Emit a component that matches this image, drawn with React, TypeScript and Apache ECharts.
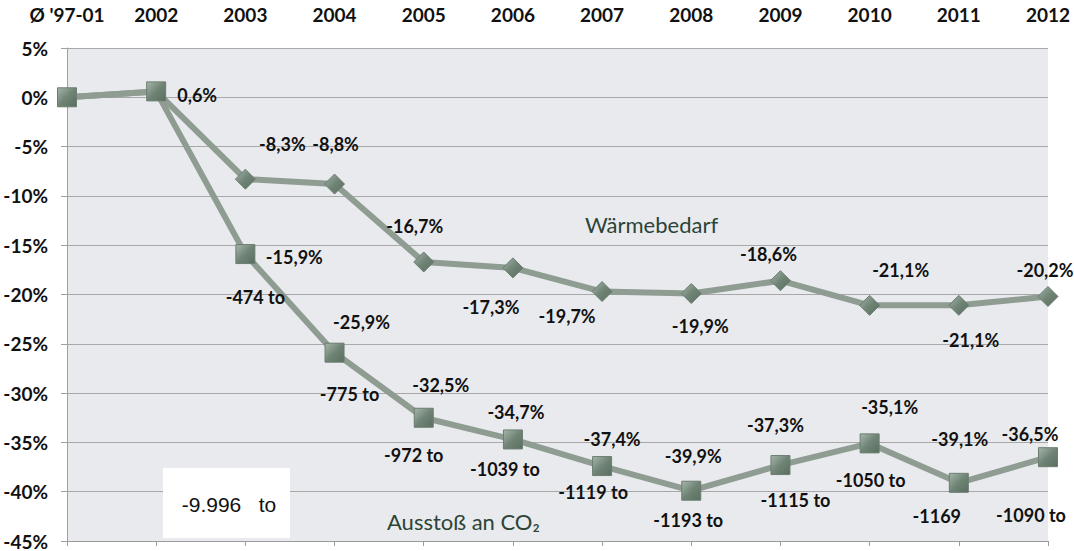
import React, { useEffect, useRef } from "react";
import * as echarts from "echarts";

const categories = ["Ø '97-01", "2002", "2003", "2004", "2005", "2006", "2007", "2008", "2009", "2010", "2011", "2012"];
const waermeValues = [0, 0.6, -8.3, -8.8, -16.7, -17.3, -19.7, -19.9, -18.6, -21.1, -21.1, -20.2];
const co2Values = [0, 0.6, -15.9, -25.9, -32.5, -34.7, -37.4, -39.9, -37.3, -35.1, -39.1, -36.5];
const co2Tons = [null, null, -474, -775, -972, -1039, -1119, -1193, -1115, -1050, -1169, -1090];
const tonUnits = ["", "", " to", " to", " to", " to", " to", " to", " to", " to", "", " to"];
const yTicks = { min: -45, max: 5, interval: 5 };
const totalLabel = "-9.996   to";
const waermeName = "Wärmebedarf";
const co2Name = "Ausstoß an CO₂";

// label placements (pixel offsets from the point)
const waermeOffsets: (number[] | null)[] = [null, null, [37, -35], [1, -40], [-9, -36], [-22, 39], [-35, 24], [9, 32], [-12, -27], [31, -35], [12, 35], [-3, -26]];
const co2Offsets: (number[] | null)[] = [null, [41, 4], [49, 3], [27, -31], [17, -33], [3, -27], [10, -27], [2, -35], [-5, -40], [20, -36], [1, -44], [-18, -23]];
const tonOffsets: (number[] | null)[] = [null, null, [10, 43], [15, 41], [-10, 37], [-8, 30], [-9, 26], [-3, 29], [15, 35], [1, 37], [-22, 33], [-17, 58]];

const fmtPct = (v: number) => `${v.toFixed(1).replace(".", ",")}%`;

const LINE = "#8e9c92";
const markerFill = new echarts.graphic.LinearGradient(0, 0, 1, 1, [
  { offset: 0, color: "#a7b5ab" },
  { offset: 0.5, color: "#6f8475" },
  { offset: 1, color: "#5a6e60" },
]);
const labelFont = { fontFamily: "Lato", fontWeight: "bold" as const, fontSize: 18, color: "#111" };

export default function App() {
  const ref = useRef<HTMLDivElement>(null);
  useEffect(() => {
    if (!ref.current) return;
    const chart = echarts.init(ref.current, null, { renderer: "svg" });

    const waermeData = waermeValues.map((v, i) => ({
      value: v,
      symbol: i < 2 ? "none" : "diamond",
      label: waermeOffsets[i]
        ? { show: true, position: "inside", offset: waermeOffsets[i], formatter: fmtPct(v), ...labelFont }
        : { show: false },
    }));
    const co2Data = co2Values.map((v, i) => ({
      value: v,
      label: co2Offsets[i]
        ? { show: true, position: "inside", offset: co2Offsets[i], formatter: fmtPct(v), ...labelFont }
        : { show: false },
    }));
    const tonData = co2Values.map((v, i) => ({
      value: v,
      label:
        co2Tons[i] !== null && tonOffsets[i]
          ? { show: true, position: "inside", offset: tonOffsets[i], formatter: `${co2Tons[i]}${tonUnits[i]}`, ...labelFont }
          : { show: false },
    }));

    chart.setOption({
      animation: false,
      backgroundColor: "#ffffff",
      grid: {
        left: 67,
        right: 26,
        top: 48,
        bottom: 10,
        show: true,
        backgroundColor: "#e9eaee",
        borderWidth: 0,
      },
      xAxis: [
        {
          type: "category",
          data: categories,
          position: "top",
          boundaryGap: false,
          axisLine: { show: false },
          axisTick: { show: false },
          axisLabel: { interval: 0, hideOverlap: false, margin: 24, fontFamily: "Lato", fontWeight: "bold", fontSize: 19, color: "#111" },
          splitLine: { show: false },
        },
        {
          type: "category",
          data: categories,
          position: "bottom",
          boundaryGap: false,
          axisLine: { show: true, onZero: true, lineStyle: { color: "#9a9a9a", width: 1 } },
          axisTick: { show: true, interval: 0, length: 5, lineStyle: { color: "#9a9a9a" } },
          axisLabel: { show: false },
          splitLine: { show: false },
        },
      ],
      yAxis: {
        type: "value",
        min: yTicks.min,
        max: yTicks.max,
        interval: yTicks.interval,
        axisLine: { show: true, lineStyle: { color: "#a0a0a0" } },
        axisTick: { show: true, length: 6, lineStyle: { color: "#a0a0a0" } },
        axisLabel: {
          margin: 19,
          formatter: (v: number) => `${v}%`,
          fontFamily: "Lato",
          fontWeight: "bold",
          fontSize: 19,
          color: "#111",
        },
        splitLine: { show: true, lineStyle: { color: "#a8a8a8", width: 1 } },
      },
      series: [
        {
          name: waermeName,
          type: "line",
          data: waermeData,
          symbol: "diamond",
          symbolSize: 20,
          lineStyle: { color: LINE, width: 6 },
          itemStyle: { color: markerFill, borderColor: "#6b7d70", borderWidth: 1 },
          z: 2,
        },
        {
          name: co2Name,
          type: "line",
          data: co2Data,
          symbol: "rect",
          symbolSize: 19,
          lineStyle: { color: LINE, width: 6 },
          itemStyle: { color: markerFill, borderColor: "#6b7d70", borderWidth: 1 },
          z: 3,
        },
        {
          name: "tons",
          type: "line",
          data: tonData,
          symbol: "circle",
          symbolSize: 2,
          lineStyle: { opacity: 0, width: 0 },
          itemStyle: { color: "transparent" },
          z: 4,
        },
      ],
      graphic: [
        {
          type: "text",
          x: 585,
          y: 224,
          style: { text: waermeName, fontFamily: "Lato", fontSize: 22, fill: "#2c4436", verticalAlign: "middle" },
        },
        {
          type: "text",
          x: 387,
          y: 521,
          style: { text: co2Name, fontFamily: "Lato", fontSize: 22, fill: "#2c4436", verticalAlign: "middle" },
        },
        {
          type: "rect",
          shape: { x: 163, y: 468, width: 127, height: 70 },
          style: { fill: "#ffffff" },
          z: 10,
        },
        {
          type: "text",
          x: 229,
          y: 504,
          style: {
            text: totalLabel,
            fontFamily: "Liberation Sans",
            fontSize: 21,
            fill: "#111",
            align: "center",
            verticalAlign: "middle",
          },
          z: 11,
        },
      ],
    });
    return () => chart.dispose();
  }, []);
  return <div ref={ref} style={{ position: "fixed", left: 0, top: 0, width: 1074, height: 551 }} />;
}
